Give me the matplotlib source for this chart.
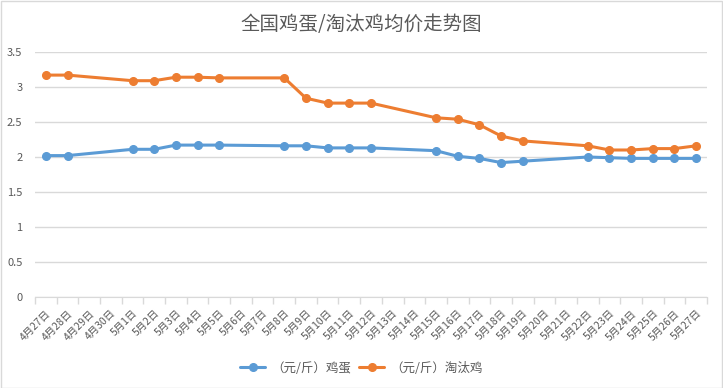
import numpy as np
import pandas as pd
import matplotlib
matplotlib.use("Agg")
import matplotlib.pyplot as plt
from matplotlib.patches import Rectangle

plt.rcParams['font.family'] = ['Noto Sans CJK SC', 'DejaVu Sans']

# 日期（类目轴）
fechas = ["4月27日", "4月28日", "4月29日", "4月30日"] + [f"5月{d}日" for d in range(1, 28)]

# 有报价的日期
dias_dato = ["4月27日", "4月28日", "5月1日", "5月2日", "5月3日", "5月4日", "5月5日",
             "5月8日", "5月9日", "5月10日", "5月11日", "5月12日", "5月15日", "5月16日",
             "5月17日", "5月18日", "5月19日", "5月22日", "5月23日", "5月24日", "5月25日",
             "5月26日", "5月27日"]

huevo = [2.02, 2.02, 2.11, 2.11, 2.17, 2.17, 2.17, 2.16, 2.16, 2.13, 2.13, 2.13,
         2.09, 2.01, 1.98, 1.92, 1.94, 2.00, 1.99, 1.98, 1.98, 1.98, 1.98]
gallina = [3.17, 3.17, 3.09, 3.09, 3.14, 3.14, 3.13, 3.13, 2.84, 2.77, 2.77, 2.77,
           2.56, 2.54, 2.46, 2.30, 2.23, 2.16, 2.10, 2.10, 2.12, 2.12, 2.16]

serie_huevo = pd.Series(huevo, index=dias_dato).reindex(fechas)
serie_gallina = pd.Series(gallina, index=dias_dato).reindex(fechas)

fig = plt.figure(figsize=(7.23, 3.88), dpi=100)
ax = fig.add_axes([35 / 723, 91 / 388, 672 / 723, 245 / 388])

x = np.arange(len(fechas))
for serie, color, nombre in [(serie_huevo, "#5B9BD5", "（元/斤）鸡蛋"),
                             (serie_gallina, "#ED7D31", "（元/斤）淘汰鸡")]:
    m = serie.notna().values
    ax.plot(x[m], serie.values[m], color=color, lw=2.2, marker="o", ms=5.5,
            label=nombre, solid_capstyle="round")

ax.set_xlim(-0.5, len(fechas) - 0.5)
ax.set_ylim(0, 3.5)
ax.set_yticks(np.arange(0, 3.51, 0.5))
ax.set_yticklabels(["0", "0.5", "1", "1.5", "2", "2.5", "3", "3.5"])
ax.yaxis.grid(True, color="#d9d9d9", lw=1)
ax.set_axisbelow(True)

ax.set_xticks(x)
ax.set_xticklabels(fechas, rotation=45, ha="right", rotation_mode="anchor")
ax.set_xticks(np.arange(-0.5, len(fechas), 1), minor=True)
ax.tick_params(axis="x", which="major", length=0, pad=8, labelsize=7.5, labelcolor="#595959")
ax.tick_params(axis="x", which="minor", length=5, color="#d9d9d9", width=1)
ax.tick_params(axis="y", length=0, labelsize=8, labelcolor="#595959", pad=9)

for s in ["top", "right", "left"]:
    ax.spines[s].set_visible(False)
ax.spines["bottom"].set_color("#d9d9d9")

fig.suptitle("全国鸡蛋/淘汰鸡均价走势图", y=0.965, fontsize=14, color="#595959")
fig.legend(loc="center", bbox_to_anchor=(0.5, 20 / 388), ncol=2, frameon=False,
           fontsize=9, labelcolor="#595959", handlelength=2.0, columnspacing=0.6,
           handletextpad=0.5)

fig.patches.append(Rectangle((0.5 / 723, 0.5 / 388), 1 - 1.5 / 723, 1 - 1.5 / 388,
                             transform=fig.transFigure, fill=False,
                             edgecolor="#d9d9d9", lw=1))

fig.savefig("out.png", dpi=100)
